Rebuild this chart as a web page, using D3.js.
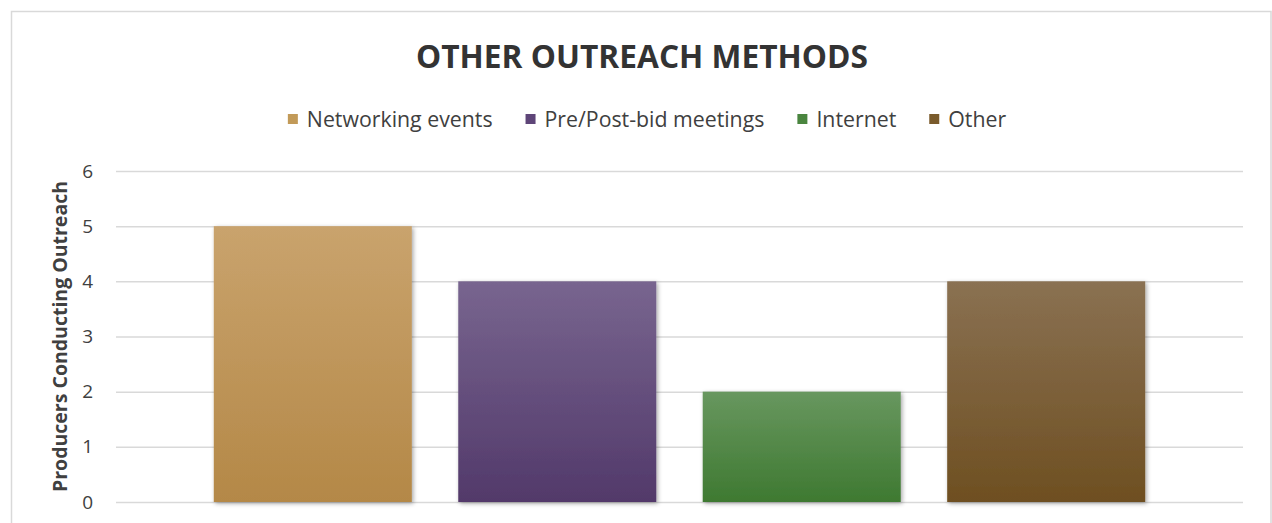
<!DOCTYPE html>
<html>
<head>
<meta charset="utf-8">
<script src="https://cdn.jsdelivr.net/npm/d3@7"></script>
<style>
  html, body { margin: 0; padding: 0; background: #fff; }
  svg { display: block; font-family: "Open Sans", sans-serif; }
</style>
</head>
<body>
<div id="chart"></div>
<script>
// data
var seriesNames = ["Networking events", "Pre/Post-bid meetings", "Internet", "Other"];
var seriesValues = [5, 4, 2, 4];
var yTicks = [0, 1, 2, 3, 4, 5, 6];
var titleText = "OTHER OUTREACH METHODS";
var yTitleText = "Producers Conducting Outreach";

// colours: [top, bottom] of each bar's gradient, plus legend swatch
var barTop = ["#C9A36D", "#78658F", "#68975F", "#8A7152"];
var barBottom = ["#B48847", "#52396A", "#3E7931", "#6E4F21"];
var swatch = ["#C29A58", "#5E4578", "#4A853F", "#7A5B2C"];

var width = 1272, height = 523;
var plot = {left: 116, right: 1243, top: 171, bottom: 502};

var svg = d3.select("#chart").append("svg")
  .attr("width", width)
  .attr("height", height);

var defs = svg.append("defs");

seriesNames.forEach(function(name, i) {
  var g = defs.append("linearGradient")
    .attr("id", "grad" + i)
    .attr("x1", 0).attr("y1", 0).attr("x2", 0).attr("y2", 1);
  g.append("stop").attr("offset", "0%").attr("stop-color", barTop[i]);
  g.append("stop").attr("offset", "100%").attr("stop-color", barBottom[i]);
});

var shadow = defs.append("filter")
  .attr("id", "shadow")
  .attr("x", "-5%").attr("y", "-5%")
  .attr("width", "115%").attr("height", "115%");
shadow.append("feDropShadow")
  .attr("dx", 1.5).attr("dy", 1.5)
  .attr("stdDeviation", 2.2)
  .attr("flood-color", "#000")
  .attr("flood-opacity", 0.35);

// chart border
svg.append("rect")
  .attr("x", 11.5).attr("y", 11.5)
  .attr("width", 1259.5).attr("height", 600)
  .attr("fill", "#fff")
  .attr("stroke", "#D9D9D9")
  .attr("stroke-width", 1.5);

// scales
var x = d3.scaleBand()
  .domain(seriesNames)
  .range([plot.left, plot.right])
  .paddingInner(0.19)
  .paddingOuter(0.4);

var y = d3.scaleLinear()
  .domain([0, 6])
  .range([plot.bottom, plot.top]);

// y axis with gridlines
var yAxis = d3.axisLeft(y)
  .tickValues(yTicks)
  .tickFormat(d3.format("d"))
  .tickSizeInner(-(plot.right - plot.left))
  .tickSizeOuter(0)
  .tickPadding(23);

var yg = svg.append("g")
  .attr("class", "y axis")
  .attr("transform", "translate(" + plot.left + ",0)")
  .call(yAxis);

yg.select(".domain").remove();
yg.selectAll(".tick line")
  .attr("stroke", "#D9D9D9")
  .attr("stroke-width", 1.5);
yg.selectAll(".tick text")
  .attr("fill", "#404040")
  .style("font-size", "19px")
  .style("font-family", "'Open Sans', sans-serif");

// bars
svg.append("g")
  .selectAll("rect")
  .data(seriesNames)
  .enter().append("rect")
  .attr("x", function(d) { return x(d); })
  .attr("width", x.bandwidth())
  .attr("y", function(d, i) { return y(seriesValues[i]); })
  .attr("height", function(d, i) { return y(0) - y(seriesValues[i]); })
  .attr("fill", function(d, i) { return "url(#grad" + i + ")"; })
  .attr("filter", "url(#shadow)");

// title
svg.append("text")
  .attr("x", 642)
  .attr("y", 68)
  .attr("text-anchor", "middle")
  .attr("fill", "#333333")
  .style("font-size", "32px")
  .style("font-weight", "bold")
  .attr("textLength", 452)
  .attr("lengthAdjust", "spacingAndGlyphs")
  .text(titleText);

// y axis title
svg.append("text")
  .attr("transform", "translate(67," + ((plot.top + plot.bottom) / 2) + ") rotate(-90)")
  .attr("text-anchor", "middle")
  .attr("fill", "#404040")
  .style("font-size", "20px")
  .style("font-weight", "bold")
  .attr("textLength", 311)
  .attr("lengthAdjust", "spacingAndGlyphs")
  .text(yTitleText);

// legend
var legend = svg.append("g").attr("class", "legend");
var items = legend.selectAll("g")
  .data(seriesNames)
  .enter().append("g");

items.append("rect")
  .attr("width", 10).attr("height", 10)
  .attr("y", 114)
  .attr("fill", function(d, i) { return swatch[i]; });

items.append("text")
  .attr("y", 127)
  .attr("fill", "#404040")
  .style("font-size", "21.3px")
  .text(function(d) { return d; });

var cursor = 0;
var offsets = [];
items.each(function() {
  var w = d3.select(this).select("text").node().getComputedTextLength();
  offsets.push(cursor);
  cursor += 19 + w + 33;
});
var total = cursor - 33;
var start = 647 - total / 2;
items.each(function(d, i) {
  var g = d3.select(this);
  g.select("rect").attr("x", start + offsets[i]);
  g.select("text").attr("x", start + offsets[i] + 19);
});
</script>
</body>
</html>
